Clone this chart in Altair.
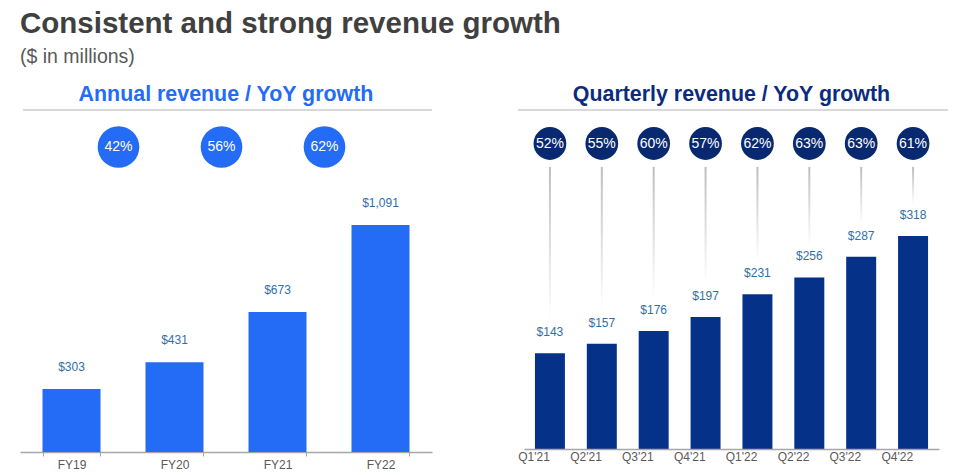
import altair as alt
import pandas as pd

# ---- data ----
years = ["FY19", "FY20", "FY21", "FY22"]
annual_rev = [303, 431, 673, 1091]
growth_years = ["FY20", "FY21", "FY22"]
annual_growth = [42, 56, 62]

quarters = ["Q1'21", "Q2'21", "Q3'21", "Q4'21", "Q1'22", "Q2'22", "Q3'22", "Q4'22"]
quarter_rev = [143, 157, 176, 197, 231, 256, 287, 318]
quarter_growth = [52, 55, 60, 57, 62, 63, 63, 61]

FONT = "Liberation Sans"
BLUE = "#246BF5"
NAVY_BAR = "#063188"
NAVY_CIRCLE = "#08296F"
NAVY_TITLE = "#0B2C7C"
VAL = "#2F6FA8"
GRAY_TXT = "#595959"

annual_df = pd.DataFrame({"year": years, "rev": annual_rev})
agrowth_df = pd.DataFrame({"year": growth_years, "g": annual_growth})
q_df = pd.DataFrame({"q": quarters, "rev": quarter_rev, "g": quarter_growth})

# ---- left panel ----
xL = alt.X("year:N", sort=years, title=None,
           scale=alt.Scale(paddingInner=0.437, paddingOuter=0.2185),
           axis=alt.Axis(labelAngle=0, tickBand="extent", domainColor="#A6A6A6",
                         tickColor="#A6A6A6", tickSize=4, domainWidth=1.5,
                         labelColor=GRAY_TXT, labelFontSize=12, labelPadding=3, labelFont=FONT))
yL = alt.Y("rev:Q", axis=None, scale=alt.Scale(domain=[0, 1605]))

barsL = alt.Chart(annual_df).mark_bar(color=BLUE).encode(x=xL, y=yL)
labelsL = alt.Chart(annual_df).mark_text(dy=-22, baseline="middle", fontSize=12, color=VAL, font=FONT).encode(
    x=alt.X("year:N", sort=years), y=yL, text=alt.Text("rev:Q", format="$,"))
circL = alt.Chart(agrowth_df).mark_circle(color=BLUE, opacity=1, size=1735, xOffset=-56).encode(
    x=alt.X("year:N", sort=years), y=alt.value(29))
circTxtL = alt.Chart(agrowth_df).transform_calculate(lab="datum.g + '%'").mark_text(
    xOffset=-56, color="white", fontSize=14, baseline="middle", font=FONT).encode(
    x=alt.X("year:N", sort=years), y=alt.value(29), text="lab:N")
ruleL = alt.Chart(annual_df).mark_rule(color="#D9D9D9", strokeWidth=1.5).encode(
    x=alt.value(3), x2=alt.value(412), y=alt.value(-8))

left = alt.layer(ruleL, barsL, labelsL, circL, circTxtL).properties(
    width=412, height=334,
    title=alt.TitleParams("Annual revenue / YoY growth", color=BLUE, fontSize=21.4,
                          fontWeight="bold", font=FONT, offset=4, anchor="middle"))

# ---- right panel ----
xR = alt.X("q:N", sort=quarters, title=None,
           scale=alt.Scale(paddingInner=0.422, paddingOuter=0.211),
           axis=alt.Axis(labelAngle=0, ticks=False, domainColor="#A6A6A6", domainWidth=1.5,
                         labelColor=GRAY_TXT, labelFontSize=12, labelPadding=7, labelFont=FONT))
yR = alt.Y("rev:Q", axis=None, scale=alt.Scale(domain=[0, 494]))

grad = alt.Gradient(gradient="linear",
                    stops=[alt.GradientStop(color="#BDBDBD", offset=0),
                           alt.GradientStop(color="#FFFFFF", offset=1)],
                    x1=0, x2=0, y1=0, y2=1)

linesR = alt.Chart(q_df).mark_rect(color=grad, width=2, yOffset=-32).encode(
    x=alt.X("q:N", sort=quarters), y=yR, y2=alt.value(49))
barsR = alt.Chart(q_df).mark_bar(color=NAVY_BAR).encode(x=xR, y=yR)
labelsR = alt.Chart(q_df).mark_text(dy=-21, baseline="middle", fontSize=12, color=VAL, font=FONT).encode(
    x=alt.X("q:N", sort=quarters), y=yR, text=alt.Text("rev:Q", format="$,"))
circR = alt.Chart(q_df).mark_circle(color=NAVY_CIRCLE, opacity=1, size=1075).encode(
    x=alt.X("q:N", sort=quarters), y=alt.value(25.5))
circTxtR = alt.Chart(q_df).transform_calculate(lab="datum.g + '%'").mark_text(
    color="white", fontSize=14, baseline="middle", font=FONT).encode(
    x=alt.X("q:N", sort=quarters), y=alt.value(25.5), text="lab:N")
ruleR = alt.Chart(q_df).mark_rule(color="#D9D9D9", strokeWidth=1.5).encode(
    x=alt.value(-6), x2=alt.value(424), y=alt.value(-8))

right = alt.layer(ruleR, linesR, barsR, labelsR, circR, circTxtR).properties(
    width=415, height=331,
    title=alt.TitleParams("Quarterly revenue / YoY growth", color=NAVY_TITLE, fontSize=21.4,
                          fontWeight="bold", font=FONT, offset=4, anchor="middle"))

chart = alt.hconcat(left, right, spacing=84).properties(
    title=alt.TitleParams("Consistent and strong revenue growth",
                          subtitle="($ in millions)", anchor="start", fontSize=29.5,
                          fontWeight="bold", color="#404040", font=FONT,
                          subtitleFont=FONT, subtitleFontSize=19.5, subtitleColor=GRAY_TXT,
                          subtitlePadding=9, offset=10, dy=-6),
    padding={"left": 12, "top": 0, "right": 0, "bottom": 0},
).configure(font=FONT, view=alt.ViewConfig(stroke=None))

chart.save("out.html", embed_options={"renderer": "svg", "actions": False})
